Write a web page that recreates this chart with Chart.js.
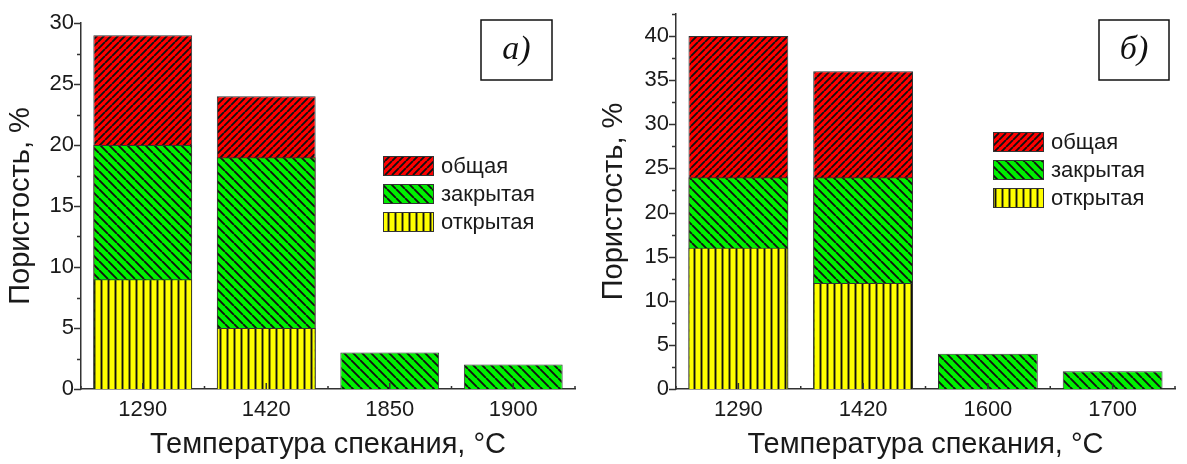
<!DOCTYPE html>
<html>
<head>
<meta charset="utf-8">
<script src="https://cdn.jsdelivr.net/npm/chart.js@4"></script>
<style>
  html, body { margin: 0; padding: 0; background: #fff; }
  #wrap { position: relative; width: 1187px; height: 464px; }
  .panel { position: absolute; top: 0; height: 464px; }
</style>
</head>
<body>
<div id="wrap">
  <div class="panel" style="left:0;width:593px"><canvas id="chartA" width="593" height="464"></canvas></div>
  <div class="panel" style="left:593px;width:594px"><canvas id="chartB" width="594" height="464"></canvas></div>
</div>
<script>
// Данные
const seriesNames = ['общая', 'закрытая', 'открытая'];

const tempsA = ['1290', '1420', '1850', '1900'];
const totalA = [29, 24, null, null];
const closedA = [20, 19, 3, 2];
const openA = [9, 5, null, null];

const tempsB = ['1290', '1420', '1600', '1700'];
const totalB = [40, 36, null, null];
const closedB = [24, 24, 4, 2];
const openB = [16, 12, null, null];

const yMaxA = 30;
const yMaxB = 42.5;
const yMajorStep = 5;
const yMinorStep = 2.5;

const xTitle = 'Температура спекания, °C';
const yTitle = 'Пористость, %';

Chart.defaults.font.family = 'Arial, "Liberation Sans", sans-serif';
Chart.defaults.color = '#1a1a1a';

// штриховка
function hatch(color, kind, step) {
    const c = document.createElement('canvas');
    c.width = step;
    c.height = step;
    const g = c.getContext('2d');
    g.fillStyle = color;
    g.fillRect(0, 0, step, step);
    g.strokeStyle = '#111';
    g.lineWidth = 1.9;
    g.beginPath();
    if (kind === 'vert') {
        g.moveTo(step / 2, 0);
        g.lineTo(step / 2, step);
    } else {
        for (let k = -step; k <= step; k += step) {
            if (kind === 'up') {
                g.moveTo(k, step);
                g.lineTo(k + step, 0);
            } else {
                g.moveTo(k, 0);
                g.lineTo(k + step, step);
            }
        }
    }
    g.stroke();
    return g.createPattern(c, 'repeat');
}

const redFill = hatch('#ff0000', 'up', 7);
const greenFill = hatch('#00f000', 'down', 9);
const yellowFill = hatch('#ffff00', 'vert', 7);

// засечки осей
const axisTicks = {
    id: 'axisTicks',
    afterDatasetsDraw(chart) {
        const { ctx, chartArea } = chart;
        const x = chart.scales.x;
        const y = chart.scales.y;
        ctx.save();
        ctx.strokeStyle = '#333';
        ctx.lineWidth = 1.5;
        ctx.beginPath();
        for (let v = y.min; v <= y.max + 1e-9; v += yMinorStep) {
            const py = Math.round(y.getPixelForValue(v)) + 0.5;
            const len = (v % yMajorStep === 0) ? 7 : 4;
            ctx.moveTo(chartArea.left, py);
            ctx.lineTo(chartArea.left - len, py);
        }
        const n = x.getLabels().length;
        for (let i = 0; i < n; i++) {
            const px = x.getPixelForValue(i);
            ctx.moveTo(px, chartArea.bottom);
            ctx.lineTo(px, chartArea.bottom - 6);
        }
        for (let i = 0; i <= n; i++) {
            const px = x.getPixelForValue(i - 0.5);
            ctx.moveTo(px, chartArea.bottom);
            ctx.lineTo(px, chartArea.bottom - 3);
        }
        ctx.stroke();
        ctx.restore();
    }
};

// легенда и подпись панели
const panelDecor = {
    id: 'panelDecor',
    afterDraw(chart, args, opts) {
        const { ctx, chartArea } = chart;
        ctx.save();
        // легенда
        const lx = chartArea.left + opts.legendX;
        let ly = chartArea.top + opts.legendY;
        chart.data.datasets.forEach(ds => {
            ctx.fillStyle = ds.backgroundColor;
            ctx.fillRect(lx, ly - 10, 51, 20);
            ctx.strokeStyle = '#333';
            ctx.lineWidth = 1;
            ctx.strokeRect(lx + 0.5, ly - 9.5, 50, 19);
            ctx.fillStyle = '#1a1a1a';
            ctx.font = '22px Arial, "Liberation Sans", sans-serif';
            ctx.textAlign = 'left';
            ctx.textBaseline = 'middle';
            ctx.fillText(ds.label, lx + 58, ly + 1);
            ly += 28;
        });
        // рамка с буквой
        const bx = chartArea.right + opts.boxRight - opts.boxW;
        const by = chartArea.top + opts.boxTop;
        ctx.fillStyle = '#fff';
        ctx.fillRect(bx, by, opts.boxW, opts.boxH);
        ctx.strokeStyle = '#111';
        ctx.lineWidth = 1.5;
        ctx.strokeRect(bx, by, opts.boxW, opts.boxH);
        ctx.fillStyle = '#111';
        ctx.font = 'italic 34px "Times New Roman", "Liberation Serif", serif';
        ctx.textAlign = 'center';
        ctx.textBaseline = 'middle';
        ctx.fillText(opts.tag, bx + opts.boxW / 2, by + opts.boxH / 2);
        ctx.restore();
    }
};

function makePanel(canvasId, temps, total, closed, open, yMax, pad, axisWidth, decor) {
    const ctx = document.getElementById(canvasId);
    return new Chart(ctx, {
        type: 'bar',
        data: {
            labels: temps,
            datasets: [
                { label: seriesNames[0], data: total, backgroundColor: redFill, order: 3 },
                { label: seriesNames[1], data: closed, backgroundColor: greenFill, order: 2 },
                { label: seriesNames[2], data: open, backgroundColor: yellowFill, order: 1 }
            ]
        },
        options: {
            responsive: false,
            animation: false,
            devicePixelRatio: 1,
            layout: { padding: pad },
            datasets: {
                bar: {
                    grouped: false,
                    barPercentage: 0.8,
                    categoryPercentage: 1.0,
                    borderColor: '#333',
                    borderWidth: 1
                }
            },
            plugins: {
                legend: { display: false },
                tooltip: { enabled: false },
                panelDecor: decor
            },
            scales: {
                x: {
                    z: 1,
                    offset: true,
                    grid: { display: false, drawTicks: false },
                    border: { display: true, color: '#333', width: 1.5 },
                    ticks: { font: { size: 22 }, padding: 8, color: '#1a1a1a' },
                    title: {
                        display: true,
                        text: xTitle,
                        font: { size: 29 },
                        color: '#1a1a1a',
                        padding: { top: 0, bottom: 2 }
                    },
                    afterFit: s => { s.height = 75; }
                },
                y: {
                    min: 0,
                    max: yMax,
                    grid: { display: false, drawTicks: false },
                    border: { display: true, color: '#333', width: 1.5 },
                    ticks: {
                        stepSize: yMinorStep,
                        autoSkip: false,
                        font: { size: 22 },
                        padding: 7,
                        color: '#1a1a1a',
                        callback: v => (v % yMajorStep === 0 ? v : '')
                    },
                    title: {
                        display: true,
                        text: yTitle,
                        font: { size: 29 },
                        color: '#1a1a1a',
                        padding: { top: 4, bottom: 0 }
                    },
                    afterFit: s => {
                        s.width = axisWidth;
                        s.paddingTop = 0;
                        s.paddingBottom = 0;
                    }
                }
            }
        },
        plugins: [axisTicks, panelDecor]
    });
}

makePanel('chartA', tempsA, totalA, closedA, openA, yMaxA,
    { top: 23, right: 18, left: 0, bottom: 0 }, 81,
    { legendX: 302, legendY: 143, boxRight: -23, boxTop: -3, boxW: 71, boxH: 60, tag: 'а)' });

makePanel('chartB', tempsB, totalB, closedB, openB, yMaxB,
    { top: 14, right: 12, left: 0, bottom: 0 }, 83,
    { legendX: 317, legendY: 128, boxRight: -6, boxTop: 6, boxW: 70, boxH: 60, tag: 'б)' });
</script>
</body>
</html>
